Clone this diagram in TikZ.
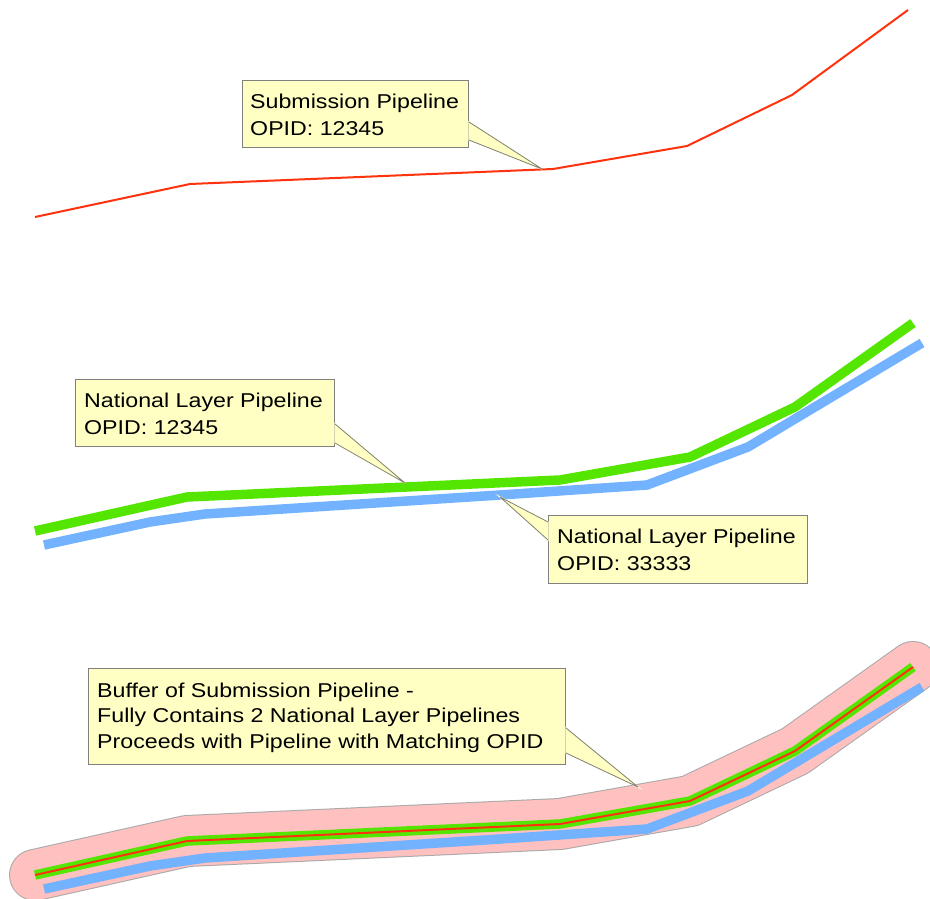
\documentclass[tikz,border=0pt]{standalone}
\usepackage{fontspec}
\setmainfont{Liberation Sans}[FakeStretch=1.16]
\usepackage{tikz}
\usetikzlibrary{positioning,calc}
\definecolor{subred}{RGB}{255,50,14}
\definecolor{natgreen}{RGB}{84,230,0}
\definecolor{natblue}{RGB}{114,178,255}
\definecolor{bufpink}{RGB}{255,192,192}
\definecolor{bufedge}{RGB}{168,168,168}
\definecolor{callfill}{RGB}{255,255,196}
\definecolor{callgray}{RGB}{128,128,128}
\newcommand{\natApath}{(35,531) -- (187,497) -- (560,480) -- (690,457) -- (795,407) -- (913,323)}
\newcommand{\natBpath}{(44,545) -- (150,522) -- (205,514) -- (500,495) -- (647,485) -- (748,447) -- (922,343)}

\begin{document}
\begin{tikzpicture}[x=1pt,y=-1pt,
  pipe/.style={line width=9.5pt,line cap=butt},
  subline/.style={line width=2pt,subred,line join=round},
  callbox/.style={draw=callgray,fill=callfill,line width=1pt,inner sep=0pt,anchor=north west},
  calltext/.style={anchor=north west,inner sep=0pt,align=left,font=\fontsize{20}{27.5}\selectfont},
  callgap/.style={fill=callfill,draw=callfill,line width=1.4pt},
  callpoint/.style={draw=callgray,line width=0.8pt,line join=round}]
  \useasboundingbox (0,0) rectangle (930,899);
  % submission pipeline
  \draw[subline] (35,217) -- (190,184) -- (553,169) -- (687,146) -- (792,95) -- (908,10);
  % national layer pipelines
  \draw[pipe,natblue] \natBpath;
  \draw[pipe,natgreen] \natApath;
  % buffer with both pipelines inside
  \begin{scope}[shift={(0,344)}]
    \draw[line width=52pt,bufedge,line cap=round,line join=round] \natApath;
    \draw[line width=50pt,bufpink,line cap=round,line join=round] \natApath;
    \draw[pipe,natblue] \natBpath;
    \draw[pipe,natgreen] \natApath;
    \draw[subline] \natApath;
  \end{scope}
  % callouts
  \node[callbox,minimum width=226pt,minimum height=67pt] (subBox) at (242,80) {};
  \coordinate (subTip) at (542,169);
  \coordinate (subBaseA) at ($(subBox.north east)+(0,42)$);
  \coordinate (subBaseB) at ($(subBox.north east)+(0,60)$);
  \filldraw[callgap] (subBaseA) -- (subTip) -- (subBaseB) -- cycle;
  \draw[callpoint] (subBaseA) -- (subTip) -- (subBaseB);
  \node[calltext] (subText) at ($(subBox.north west)+(8,13.5)$) {Submission Pipeline\\OPID: 12345};

  \node[callbox,minimum width=259pt,minimum height=67pt] (natBoxA) at (75,379) {};
  \coordinate (natTipA) at (405,483);
  \coordinate (natBaseA) at ($(natBoxA.north east)+(0,45)$);
  \coordinate (natBaseB) at ($(natBoxA.north east)+(0,64)$);
  \filldraw[callgap] (natBaseA) -- (natTipA) -- (natBaseB) -- cycle;
  \draw[callpoint] (natBaseA) -- (natTipA) -- (natBaseB);
  \node[calltext] (natTextA) at ($(natBoxA.north west)+(9,13.5)$) {National Layer Pipeline\\OPID: 12345};

  \node[callbox,minimum width=259pt,minimum height=68pt] (natBoxB) at (548,515) {};
  \coordinate (natTipB) at (500,497);
  \coordinate (natBaseC) at ($(natBoxB.north west)+(0,7)$);
  \coordinate (natBaseD) at ($(natBoxB.north west)+(0,25)$);
  \filldraw[callgap] (natBaseC) -- (natTipB) -- (natBaseD) -- cycle;
  \draw[callpoint] (natBaseC) -- (natTipB) -- (natBaseD);
  \node[calltext] (natTextB) at ($(natBoxB.north west)+(9,13.5)$) {National Layer Pipeline\\OPID: 33333};

  \node[callbox,minimum width=477pt,minimum height=96pt] (bufBox) at (88,668) {};
  \coordinate (bufTip) at (638,787);
  \coordinate (bufBaseA) at ($(bufBox.north east)+(0,60)$);
  \coordinate (bufBaseB) at ($(bufBox.north east)+(0,85)$);
  \filldraw[callgap] (bufBaseA) -- (bufTip) -- (bufBaseB) -- cycle;
  \draw[callpoint] (bufBaseA) -- (bufTip) -- (bufBaseB);
  \node[calltext,font=\fontsize{20}{25.5}\selectfont] (bufText) at ($(bufBox.north west)+(9,14.5)$)
       {Buffer of Submission Pipeline -\\Fully Contains 2 National Layer Pipelines\\Proceeds with Pipeline with Matching OPID};
\end{tikzpicture}
\end{document}
